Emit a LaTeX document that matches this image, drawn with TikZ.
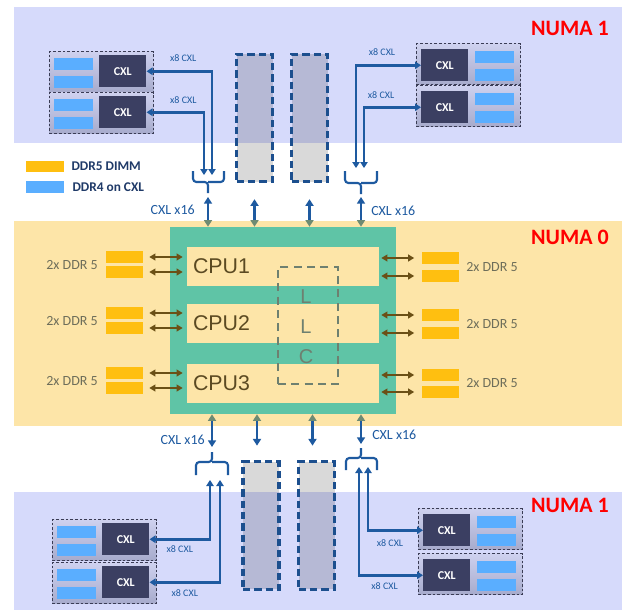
\documentclass[tikz,border=0pt]{standalone}
\usepackage{fontspec}
\setmainfont{Carlito}
\newfontfamily\cpufont{Liberation Sans}
\usetikzlibrary{arrows.meta,positioning}

\definecolor{numaone}{HTML}{D6DAFB}
\definecolor{numazero}{HTML}{FDE5A8}
\definecolor{cpugreen}{HTML}{5FC4A6}
\definecolor{cxldark}{HTML}{3B3F62}
\definecolor{ddrfourblue}{HTML}{5AAEFF}
\definecolor{ddrfiveorange}{HTML}{FFBF10}
\definecolor{linkblue}{HTML}{1E5AA0}
\definecolor{slotblue}{HTML}{1C4F8E}
\definecolor{tipgreen}{HTML}{6E8B73}
\definecolor{ddrbrown}{HTML}{6B5016}
\definecolor{lblgray}{HTML}{6E6E5A}
\definecolor{llcgray}{HTML}{6E8070}
\definecolor{legnavy}{HTML}{1F3A68}
\definecolor{cpubrown}{HTML}{5B4A22}
\definecolor{cardtop}{HTML}{CED1EF}
\definecolor{cardbot}{HTML}{A7ABCC}
\definecolor{carddash}{HTML}{3A3C55}

\tikzset{
        card/.style = {draw=carddash, line width=0.8pt, dash pattern=on 2pt off 1.5pt,
            top color=cardtop, bottom color=cardbot, inner sep=0pt,
            minimum width=78pt, minimum height=30.75pt},
        cxl_box/.style = {fill=cxldark, text=white, inner sep=0pt,
            font=\bfseries\fontsize{9}{9}\selectfont,
            minimum width=35.25pt, minimum height=24pt},
        ddr4_bar/.style = {fill=ddrfourblue, inner sep=0pt,
            minimum width=29.25pt, minimum height=9pt},
        ddr5_bar/.style = {fill=ddrfiveorange, inner sep=0pt,
            minimum width=27.75pt, minimum height=8.6pt},
        slot/.style = {draw=slotblue, line width=2.3pt, dash pattern=on 5.5pt off 3pt,
            fill=black, fill opacity=0.15, inner sep=0pt,
            minimum width=27pt, minimum height=95.5pt},
        cpu_box/.style = {fill=cpugreen, inner sep=0pt,
            minimum width=169.5pt, minimum height=140.25pt},
        cpu_core/.style = {fill=numazero, text=cpubrown, align=left,
            font=\cpufont\fontsize{16}{16}\selectfont,
            text width=135pt, inner xsep=4.5pt, inner ysep=0pt, minimum height=29.25pt},
        llc_box/.style = {draw=llcgray, line width=1.5pt, dash pattern=on 6pt off 4pt,
            inner sep=0pt, minimum width=45pt, minimum height=87.75pt},
        llc_txt/.style = {text=llcgray, inner sep=0pt, font=\cpufont\fontsize{15}{15}\selectfont},
        numa_lbl/.style = {text=red, inner sep=0pt, font=\bfseries\fontsize{16.5}{16.5}\selectfont},
        leg_txt/.style = {text=legnavy, inner sep=0pt, font=\bfseries\fontsize{10}{10}\selectfont},
        ddr_lbl/.style = {text=lblgray, inner sep=0pt, font=\fontsize{10.5}{10.5}\selectfont},
        bus_lbl/.style = {text=linkblue, inner sep=0pt, font=\fontsize{10.5}{10.5}\selectfont},
        x8_lbl/.style = {text=linkblue, inner sep=0pt, font=\fontsize{7.5}{7.5}\selectfont},
        cxl_link/.style = {draw=linkblue, line width=2pt,
            arrows={Triangle[width=5.5pt,length=4.5pt]-Triangle[width=5.5pt,length=4.5pt]}},
        bus/.style = {draw=linkblue, line width=1.9pt,
            arrows={Triangle[width=6pt,length=5pt]-Triangle[width=6pt,length=5pt,color=tipgreen]}},
        ddr_link/.style = {draw=ddrbrown, line width=1.5pt,
            arrows={Triangle[width=5pt,length=4.5pt]-Triangle[width=5pt,length=4.5pt]}},
        brace_line/.style = {draw=linkblue, line width=1.6pt, rounded corners=2.5pt},
        card_l/.pic = {
            \node[card, anchor=north west] (-card) at (0,0) {};
            \node[ddr4_bar, anchor=north west] (-mem1) at (5,7) {};
            \node[ddr4_bar, anchor=north west] (-mem2) at (5,25) {};
            \node[cxl_box, anchor=north west] (-cxl) at (50,4) {CXL};
        },
        card_r/.pic = {
            \node[card, anchor=north west] (-card) at (0,0) {};
            \node[cxl_box, anchor=north west] (-cxl) at (5,6) {CXL};
            \node[ddr4_bar, anchor=north west] (-mem1) at (59,8) {};
            \node[ddr4_bar, anchor=north west] (-mem2) at (59,26) {};
        }
    }

\begin{document}
\begin{tikzpicture}[x=0.75pt, y=-0.75pt]
    \useasboundingbox (0,0) rectangle (625,610);
    % NUMA regions
    \fill[numaone] (14,7) rectangle (622,143);
    \fill[numazero] (14,221) rectangle (622,426);
    \fill[numaone] (14,492) rectangle (622,610);
    \node[numa_lbl] (numa_top) at (570,28) {NUMA 1};
    \node[numa_lbl] (numa_mid) at (570,237) {NUMA 0};
    \node[numa_lbl] (numa_bot) at (570,505) {NUMA 1};

    % legend
    \node[ddr5_bar, minimum width=28.5pt, minimum height=8.25pt] (leg_ddr5) at (45,166.5) {};
    \node[leg_txt, anchor=west, right=5.25pt of leg_ddr5] (leg_ddr5_txt) {DDR5 DIMM};
    \node[ddr4_bar, minimum width=28.5pt, minimum height=8.6pt] (leg_ddr4) at (45,187) {};
    \node[leg_txt, anchor=west, right=6pt of leg_ddr4] (leg_ddr4_txt) {DDR4 on CXL};

    % memory slots
    \node[slot] (slot_t1) at (254.5,118) {};
    \node[slot] (slot_t2) at (309.5,118) {};
    \node[slot] (slot_b1) at (261,525.5) {};
    \node[slot] (slot_b2) at (316.5,525.5) {};

    % CPU package
    \node[cpu_box] (cpu) at (283,320.5) {};
    \node[cpu_core] (cpu1) at (283,266.5) {CPU1};
    \node[cpu_core] (cpu2) at (283,323.5) {CPU2};
    \node[cpu_core] (cpu3) at (283,383) {CPU3};
    \node[llc_box] (llc) at (308,325.5) {};
    \node[llc_txt] (llc_a) at (306,297) {L};
    \node[llc_txt] (llc_b) at (306,327) {L};
    \node[llc_txt] (llc_c) at (306,357) {C};

    % DDR5 channels
    \foreach \n/\ya/\yb/\yl/\ra/\rb/\rl in {1/257/272/265/258/276/267,
            2/313/328/321/315/333/324, 3/373/388/381/375/392/383} {
        \node[ddr5_bar] (ddrla\n) at (124.5,\ya) {};
        \node[ddr5_bar] (ddrlb\n) at (124.5,\yb) {};
        \node[ddr_lbl, anchor=east] (ddrl_lbl\n) at (98,\yl) {2x DDR 5};
        \draw[ddr_link, shorten <=4.5pt, shorten >=3pt] (ddrla\n.east) -- (ddrla\n.east -| cpu\n.west);
        \draw[ddr_link, shorten <=4.5pt, shorten >=3pt] (ddrlb\n.east) -- (ddrlb\n.east -| cpu\n.west);
        \node[ddr5_bar] (ddrra\n) at (440,\ra) {};
        \node[ddr5_bar] (ddrrb\n) at (440,\rb) {};
        \node[ddr_lbl, anchor=west] (ddrr_lbl\n) at (466,\rl) {2x DDR 5};
        \draw[ddr_link, shorten <=5.25pt, shorten >=1.5pt] (ddrra\n.west) -- (ddrra\n.west -| cpu\n.east);
        \draw[ddr_link, shorten <=5.25pt, shorten >=1.5pt] (ddrrb\n.west) -- (ddrrb\n.west -| cpu\n.east);
    }

    % CXL cards
    \pic (tl1) at (49,51) {card_l};
    \pic (tl2) at (49,92) {card_l};
    \pic (tr1) at (416,43) {card_r};
    \pic (tr2) at (416,85) {card_r};
    \pic (bl1) at (52,519) {card_l};
    \pic (bl2) at (52,562) {card_l};
    \pic (br1) at (418,508) {card_r};
    \pic (br2) at (418,553) {card_r};

    % x16 braces
    \draw[brace_line] (193,171) |- (208,182) -- (208,193);
    \draw[brace_line] (224,171) |- (208,182);
    \draw[brace_line] (345,171) |- (361,183) -- (361,194);
    \draw[brace_line] (377,171) |- (361,183);
    \draw[brace_line] (196,475) |- (212,462) -- (212,452);
    \draw[brace_line] (228,475) |- (212,462);
    \draw[brace_line] (346,470) |- (361,458) -- (361,448);
    \draw[brace_line] (377,470) |- (361,458);

    \coordinate (tl_in1) at (212,175);
    \coordinate (tl_in2) at (204,175);
    \coordinate (tr_in1) at (356,168);
    \coordinate (tr_in2) at (364,168);
    \coordinate (bl_in1) at (210,480);
    \coordinate (bl_in2) at (220,480);
    \coordinate (br_in1) at (368,467);
    \coordinate (br_in2) at (359,467);
    \coordinate (tl_out) at (208,197);
    \coordinate (tr_out) at (361,197);
    \coordinate (bl_out) at (212,447);
    \coordinate (br_out) at (361,444);

    % x8 links
    \draw[cxl_link] (tl1-cxl.east) -| node[x8_lbl, above=6.3pt, pos=0.28] (x8_tl1) {x8 CXL} (tl_in1);
    \draw[cxl_link] (tl2-cxl.east) -| node[x8_lbl, above=5.5pt, pos=0.32] (x8_tl2) {x8 CXL} (tl_in2);
    \draw[cxl_link] (tr1-cxl.west) -| node[x8_lbl, above=6.3pt, pos=0.3] (x8_tr1) {x8 CXL} (tr_in1);
    \draw[cxl_link] (tr2-cxl.west) -| node[x8_lbl, above=5.5pt, pos=0.35] (x8_tr2) {x8 CXL} (tr_in2);
    \draw[cxl_link] (bl1-cxl.east) -| node[x8_lbl, below=4pt, pos=0.25] (x8_bl1) {x8 CXL} (bl_in1);
    \draw[cxl_link] (bl2-cxl.east) -| node[x8_lbl, below=4.8pt, pos=0.25] (x8_bl2) {x8 CXL} (bl_in2);
    \draw[cxl_link] (br1-cxl.west) -| node[x8_lbl, below=6.3pt, pos=0.3] (x8_br1) {x8 CXL} (br_in1);
    \draw[cxl_link] (br2-cxl.west) -| node[x8_lbl, below=4.8pt, pos=0.3] (x8_br2) {x8 CXL} (br_in2);

    % x16 links to the CPU package
    \draw[bus] (tl_out) -- (tl_out |- cpu.north);
    \draw[bus] (tr_out) -- (tr_out |- cpu.north);
    \draw[bus, shorten <=12pt] (slot_t1.south) -- (slot_t1.south |- cpu.north);
    \draw[bus, shorten <=12pt] (slot_t2.south) -- (slot_t2.south |- cpu.north);
    \draw[bus] (bl_out) -- (bl_out |- cpu.south);
    \draw[bus] (br_out) -- (br_out |- cpu.south);
    \draw[bus, shorten <=11pt] ([xshift=-3pt]slot_b1.north) -- ([xshift=-3pt]slot_b1.north |- cpu.south);
    \draw[bus, shorten <=11pt] ([xshift=-3pt]slot_b2.north) -- ([xshift=-3pt]slot_b2.north |- cpu.south);
    \node[bus_lbl, anchor=east] (bus_tl_lbl) at (195,210) {CXL x16};
    \node[bus_lbl, anchor=west] (bus_tr_lbl) at (371,211) {CXL x16};
    \node[bus_lbl, anchor=east] (bus_bl_lbl) at (205,440) {CXL x16};
    \node[bus_lbl, anchor=west] (bus_br_lbl) at (372,435) {CXL x16};
\end{tikzpicture}
\end{document}
